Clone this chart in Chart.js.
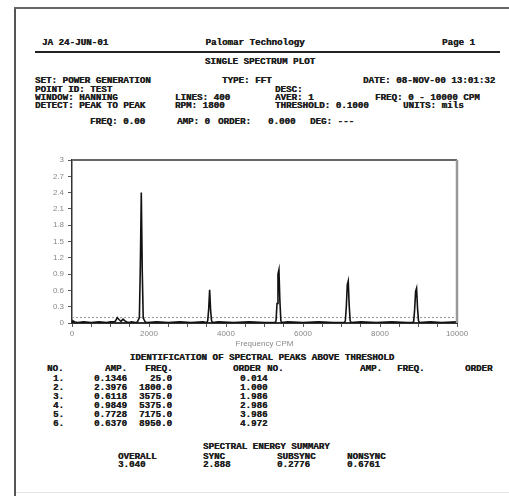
<!DOCTYPE html>
<html>
<head>
<meta charset="utf-8">
<script src="https://cdn.jsdelivr.net/npm/chart.js@4.4.1/dist/chart.umd.min.js"></script>
<style>
    html, body { margin: 0; padding: 0; background: #fff; }
    body { width: 509px; height: 496px; position: relative; overflow: hidden; }
    .t { position: absolute; font-family: 'Liberation Mono', 'DejaVu Sans Mono', monospace; font-weight: bold;
         font-size: 9.2px; line-height: 10px; color: #1e1e1e; white-space: pre; text-shadow: 0.3px 0 0 #1e1e1e; }
    .c { transform: translateX(-50%); }
    .r { transform: translateX(-100%); }
    .line { position: absolute; }
    #plot { position: absolute; left: 30px; top: 150px; }
</style>
</head>
<body>
<div class="line" style="left:14px;top:7px;width:2px;height:489px;background:#555"></div>
<div class="line" style="left:14px;top:7px;width:495px;height:2px;background:#666"></div>
<div class="line" style="left:16px;top:492px;width:493px;height:1px;background:#e4e4e4"></div>
<div class="line" style="left:35px;top:51px;width:465px;height:2px;background:#222"></div>

<div class="t" style="left:42px;top:38px">JA 24-JUN-01</div>
<div class="t c" style="left:255px;top:38px">Palomar Technology</div>
<div class="t" style="left:442px;top:38px">Page 1</div>
<div class="t c" style="left:260px;top:57px">SINGLE SPECTRUM PLOT</div>

<div class="t" style="left:35px;top:76px">SET: POWER GENERATION</div>
<div class="t" style="left:222px;top:76px">TYPE: FFT</div>
<div class="t" style="left:363px;top:76px">DATE: 08-NOV-00 13:01:32</div>
<div class="t" style="left:35px;top:85px">POINT ID: TEST</div>
<div class="t" style="left:275px;top:85px">DESC:</div>
<div class="t" style="left:35px;top:93px">WINDOW: HANNING</div>
<div class="t" style="left:175px;top:93px">LINES: 400</div>
<div class="t" style="left:275px;top:93px">AVER: 1</div>
<div class="t" style="left:375px;top:93px">FREQ: 0 - 10000 CPM</div>
<div class="t" style="left:35px;top:101px">DETECT: PEAK TO PEAK</div>
<div class="t" style="left:175px;top:101px">RPM: 1800</div>
<div class="t" style="left:275px;top:101px">THRESHOLD: 0.1000</div>
<div class="t" style="left:403px;top:101px">UNITS: mils</div>

<div class="t" style="left:90px;top:117px">FREQ: 0.00</div>
<div class="t" style="left:177px;top:117px">AMP: 0</div>
<div class="t" style="left:218px;top:117px">ORDER:</div>
<div class="t" style="left:268px;top:117px">0.000</div>
<div class="t" style="left:310px;top:117px">DEG: ---</div>

<canvas id="plot" width="441" height="200"></canvas>

<div class="t c" style="left:262px;top:353px">IDENTIFICATION OF SPECTRAL PEAKS ABOVE THRESHOLD</div>
<div class="t" style="left:47px;top:364px">NO.</div>
<div class="t" style="left:105px;top:364px">AMP.</div>
<div class="t" style="left:145px;top:364px">FREQ.</div>
<div class="t" style="left:233px;top:364px">ORDER</div>
<div class="t" style="left:267px;top:364px">NO.</div>
<div class="t" style="left:360px;top:364px">AMP.</div>
<div class="t" style="left:397px;top:364px">FREQ.</div>
<div class="t" style="left:465px;top:364px">ORDER</div>
<div id="peaks"></div>

<div class="t" style="left:203px;top:442px">SPECTRAL ENERGY SUMMARY</div>
<div id="energy"></div>

<script>
    // spectrum (CPM vs mils)
    const freqCpm = [0, 25, 50, 75, 150, 300, 500, 700, 900, 1000, 1075, 1125, 1175, 1225, 1275, 1325, 1375, 1425, 1475,
        1550, 1650, 1700, 1750, 1775, 1800, 1825, 1850, 1900, 1950, 2200, 2500, 2800, 3100, 3400, 3500, 3525, 3550,
        3575, 3600, 3625, 3650, 3800, 4200, 4600, 5000, 5275, 5300, 5325, 5350, 5375, 5400, 5425, 5450, 5600, 6000,
        6400, 6800, 7075, 7100, 7125, 7150, 7175, 7200, 7225, 7250, 7500, 7900, 8300, 8700, 8850, 8875, 8900, 8925,
        8950, 8975, 9000, 9025, 9300, 9600, 10000];
    const ampMils = [0.02, 0.04, 0.03, 0.02, 0.01, 0.02, 0.01, 0.02, 0.01, 0.02, 0.02, 0.03, 0.10, 0.06, 0.03, 0.07,
        0.04, 0.02, 0.01, 0.02, 0.01, 0.02, 0.10, 1.05, 2.40, 0.95, 0.09, 0.02, 0.01, 0.02, 0.01, 0.02, 0.01, 0.02,
        0.01, 0.04, 0.25, 0.61, 0.24, 0.04, 0.01, 0.02, 0.01, 0.02, 0.01, 0.01, 0.04, 0.36, 0.90, 0.98, 0.40, 0.04,
        0.01, 0.02, 0.01, 0.02, 0.01, 0.01, 0.04, 0.30, 0.70, 0.77, 0.32, 0.04, 0.01, 0.02, 0.01, 0.02, 0.01, 0.01,
        0.03, 0.25, 0.58, 0.64, 0.27, 0.04, 0.01, 0.02, 0.01, 0.02];
    const threshold = 0.1;
    const yTickLabels = ['0', '0.3', '0.6', '0.9', '1.2', '1.5', '1.8', '2.1', '2.4', '2.7', '3'];

    // peak table
    const peakNo = ['1.', '2.', '3.', '4.', '5.', '6.'];
    const peakAmp = ['0.1346', '2.3976', '0.6118', '0.9849', '0.7728', '0.6370'];
    const peakFreq = ['25.0', '1800.0', '3575.0', '5375.0', '7175.0', '8950.0'];
    const peakOrder = ['0.014', '1.000', '1.986', '2.986', '3.986', '4.972'];

    // energy summary
    const energyLabels = ['OVERALL', 'SYNC', 'SUBSYNC', 'NONSYNC'];
    const energyValues = ['3.040', '2.888', '0.2776', '0.6761'];

    const cell = (txt, x, y, cls) => `<div class="t ${cls || ''}" style="left:${x}px;top:${y}px">${txt}</div>`;

    document.getElementById('peaks').innerHTML = peakNo.map((n, i) => {
        const y = 374 + i * 9;
        return cell(n, 53, y) + cell(peakAmp[i], 94, y) + cell(peakFreq[i], 172, y, 'r') + cell(peakOrder[i], 240, y);
    }).join('');

    const energyX = [118, 203, 277, 347];
    document.getElementById('energy').innerHTML = energyLabels.map((l, i) =>
        cell(l, energyX[i], 452) + cell(energyValues[i], energyX[i], 460)).join('');

    const framePlugin = {
        id: 'frame',
        afterDraw(chart) {
            const { ctx, chartArea: a } = chart;
            ctx.save();
            ctx.strokeStyle = '#666';
            ctx.lineWidth = 2;
            ctx.beginPath();
            ctx.moveTo(a.left, a.top);
            ctx.lineTo(a.right, a.top);
            ctx.stroke();
            ctx.strokeStyle = '#999';
            ctx.lineWidth = 2.5;
            ctx.beginPath();
            ctx.moveTo(a.right, a.top);
            ctx.lineTo(a.right, a.bottom);
            ctx.stroke();
            ctx.restore();
        }
    };

    const axisFont = { family: "'Liberation Sans', Arial, sans-serif", size: 8 };

    new Chart(document.getElementById('plot').getContext('2d'), {
        type: 'line',
        data: {
            datasets: [{
                data: freqCpm.map((f, i) => ({ x: f, y: ampMils[i] })),
                borderColor: '#111',
                borderWidth: 1.6,
                pointRadius: 0,
                tension: 0,
                order: 1
            }, {
                data: [{ x: 0, y: threshold }, { x: 10000, y: threshold }],
                borderColor: '#999',
                borderWidth: 1,
                borderDash: [2, 2],
                pointRadius: 0,
                order: 2
            }]
        },
        options: {
            responsive: false,
            animation: false,
            layout: { padding: { top: 10, right: 14, bottom: 1, left: 0 } },
            plugins: { legend: { display: false }, tooltip: { enabled: false } },
            scales: {
                x: {
                    type: 'linear',
                    min: 0,
                    max: 10000,
                    afterFit: (s) => { s.height = 26; },
                    ticks: {
                        stepSize: 500,
                        autoSkip: false,
                        maxRotation: 0,
                        padding: 2,
                        color: '#888',
                        font: axisFont,
                        callback: (v) => (v % 2000 === 0 ? String(v) : '')
                    },
                    grid: { drawOnChartArea: false, tickLength: 4, color: '#555' },
                    border: { color: '#333', width: 2 },
                    title: { display: true, text: 'Frequency CPM', color: '#888', font: axisFont, padding: 0 }
                },
                y: {
                    min: 0,
                    max: 3,
                    afterFit: (s) => { s.width = 42; },
                    ticks: {
                        stepSize: 0.3,
                        padding: 4,
                        color: '#888',
                        font: axisFont,
                        callback: (v, i) => yTickLabels[i]
                    },
                    grid: { drawOnChartArea: false, tickLength: 4, color: '#555' },
                    border: { color: '#333', width: 1.5 }
                }
            }
        },
        plugins: [framePlugin]
    });
</script>
</body>
</html>
